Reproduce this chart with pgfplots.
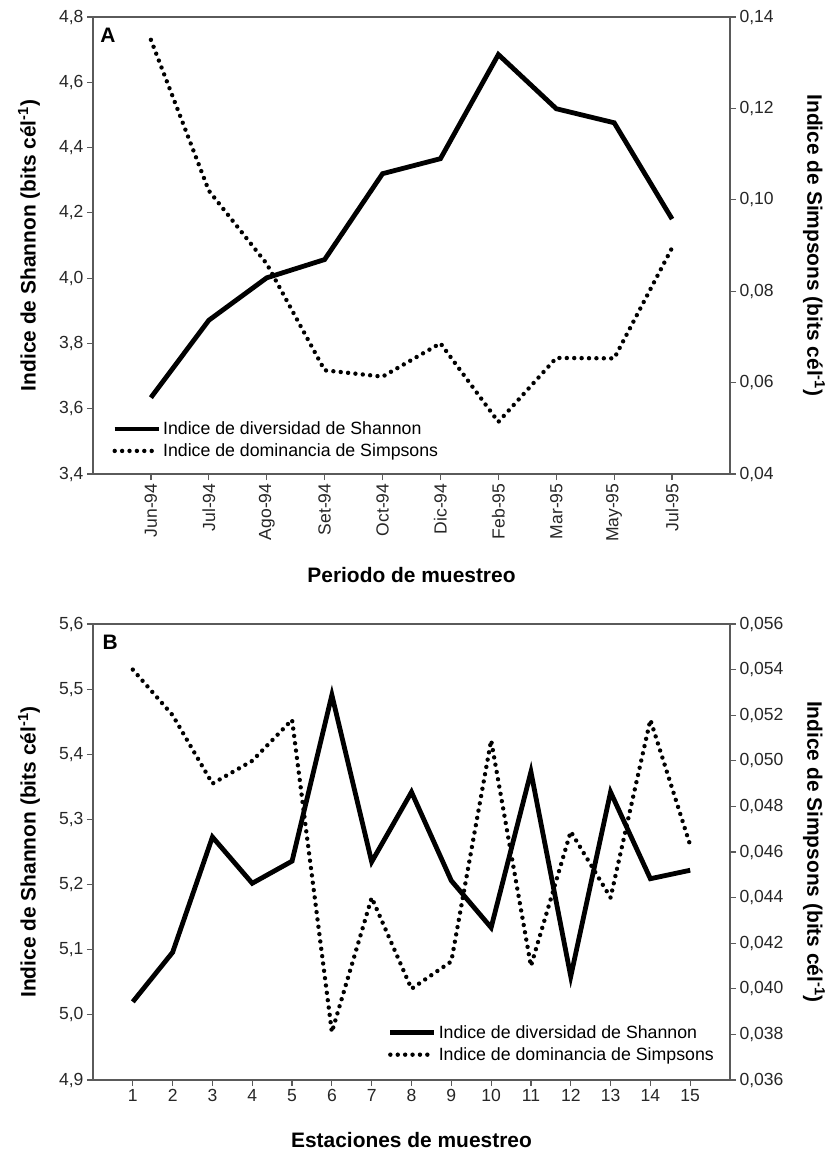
\documentclass[border=0pt]{standalone}
\usepackage{pgfplots}
\pgfplotsset{compat=1.18}
\usepackage{fontspec}
\setmainfont{Liberation Sans}
\definecolor{axgray}{HTML}{5A5A5A}
\pgfplotsset{
  base/.style={
    scale only axis, width=637bp,
    axis line style={axgray, line width=1.2bp},
    every tick/.style={axgray, line width=1.2bp},
    major tick length=6bp,
    tick align=outside,
    scaled ticks=false,
    tick label style={font=\fontsize{17.6}{20}\selectfont, black!85},
    label style={font=\bfseries\fontsize{21}{24}\selectfont},
    /pgf/number format/assume math mode=true,
    /pgf/number format/use comma,
    /pgf/number format/fixed,
    /pgf/number format/fixed zerofill,
    clip=false,
  },
  shan/.style={black, line width=4.8bp, line join=miter},
  simp/.style={black, line width=4.4bp, line cap=round, dash pattern=on 0pt off 7.4bp},
  leg/.style={legend style={draw=none, fill=none, font=\fontsize{17.8}{20}\selectfont, row sep=3.5bp, inner sep=0pt, nodes={inner sep=2bp},
      /tikz/every even column/.append style={column sep=5bp}},
    legend cell align=left,
    legend image code/.code={\draw[##1] (0bp,0bp) -- (44bp,0bp);}},
}
\begin{document}
\begin{tikzpicture}
\useasboundingbox (0,0) rectangle (829bp,-1151bp);
% ---------------- Panel A ----------------
\begin{axis}[base, height=457bp, at={(93bp,-474bp)}, anchor=south west,
  xmin=0, xmax=11, ymin=3.4, ymax=4.8,
  xtick={1,2,3,4,5,6,7,8,9,10},
  xticklabels={Jun-94,Jul-94,Ago-94,Set-94,Oct-94,Dic-94,Feb-95,Mar-95,May-95,Jul-95},
  x tick label style={rotate=90, anchor=east},
  ytick={3.4,3.6,3.8,4.0,4.2,4.4,4.6,4.8},
  y tick label style={/pgf/number format/precision=1},
  ytick pos=left, xtick pos=bottom,
  xlabel={Periodo de muestreo},
  ylabel={Indice de Shannon (bits cél\textsuperscript{-1})},
  xlabel style={at={(axis description cs:0.5,-0.221)}, anchor=center},
  ylabel style={at={(axis description cs:-0.1005,0.5)}, anchor=center},
]
\addplot[shan] coordinates {(1,3.634) (2,3.871) (3,4.001) (4,4.057) (5,4.320) (6,4.366) (7,4.685) (8,4.519) (9,4.476) (10,4.181)};
\node[font=\bfseries\fontsize{21}{24}\selectfont] at (rel axis cs:0.0235,0.96) {A};
\end{axis}
\begin{axis}[base, leg, height=457bp, at={(93bp,-474bp)}, anchor=south west,
  xmin=0, xmax=11, ymin=0.04, ymax=0.14,
  hide x axis, axis y line*=right,
  ytick={0.04,0.06,0.08,0.10,0.12,0.14},
  y tick label style={/pgf/number format/precision=2},
  ylabel={Indice de Simpsons (bits cél\textsuperscript{-1})},
  ylabel style={at={(axis description cs:1.132,0.5)}, anchor=center, rotate=180},
  legend style={at={(0.03,0.03)}, anchor=south west},
]
\addlegendimage{shan}
\addlegendentry{Indice de diversidad de Shannon}
\addplot[simp] coordinates {(1,0.135) (2,0.102) (3,0.086) (4,0.0627) (5,0.0613) (6,0.0686) (7,0.0514) (8,0.0654) (9,0.0653) (10,0.0895)};
\addlegendentry{Indice de dominancia de Simpsons}
\end{axis}
% ---------------- Panel B ----------------
\begin{axis}[base, height=456bp, at={(93bp,-1080bp)}, anchor=south west,
  xmin=0, xmax=16, ymin=4.9, ymax=5.6,
  xtick={1,2,...,15},
  ytick={4.9,5.0,5.1,5.2,5.3,5.4,5.5,5.6},
  y tick label style={/pgf/number format/precision=1},
  x tick label style={/pgf/number format/fixed zerofill=false, /pgf/number format/precision=0},
  ytick pos=left, xtick pos=bottom,
  xlabel={Estaciones de muestreo},
  ylabel={Indice de Shannon (bits cél\textsuperscript{-1})},
  xlabel style={at={(axis description cs:0.5,-0.1316)}, anchor=center},
  ylabel style={at={(axis description cs:-0.1005,0.5)}, anchor=center},
]
\addplot[shan] coordinates {(1,5.020) (2,5.096) (3,5.273) (4,5.202) (5,5.236) (6,5.491) (7,5.235) (8,5.342) (9,5.206) (10,5.134) (11,5.373) (12,5.059) (13,5.342) (14,5.209) (15,5.222)};
\node[font=\bfseries\fontsize{21}{24}\selectfont] at (rel axis cs:0.027,0.96) {B};
\end{axis}
\begin{axis}[base, leg, height=456bp, at={(93bp,-1080bp)}, anchor=south west,
  xmin=0, xmax=16, ymin=0.036, ymax=0.056,
  hide x axis, axis y line*=right,
  ytick={0.036,0.038,0.040,0.042,0.044,0.046,0.048,0.050,0.052,0.054,0.056},
  y tick label style={/pgf/number format/precision=3},
  ylabel={Indice de Simpsons (bits cél\textsuperscript{-1})},
  ylabel style={at={(axis description cs:1.132,0.5)}, anchor=center, rotate=180},
  legend style={at={(0.978,0.035)}, anchor=south east},
]
\addlegendimage{shan}
\addlegendentry{Indice de diversidad de Shannon}
\addplot[simp] coordinates {(1,0.0540) (2,0.0520) (3,0.0490) (4,0.0500) (5,0.0518) (6,0.0381) (7,0.0440) (8,0.0400) (9,0.0412) (10,0.0509) (11,0.0410) (12,0.0469) (13,0.0440) (14,0.0518) (15,0.0463)};
\addlegendentry{Indice de dominancia de Simpsons}
\end{axis}
\end{tikzpicture}
\end{document}
